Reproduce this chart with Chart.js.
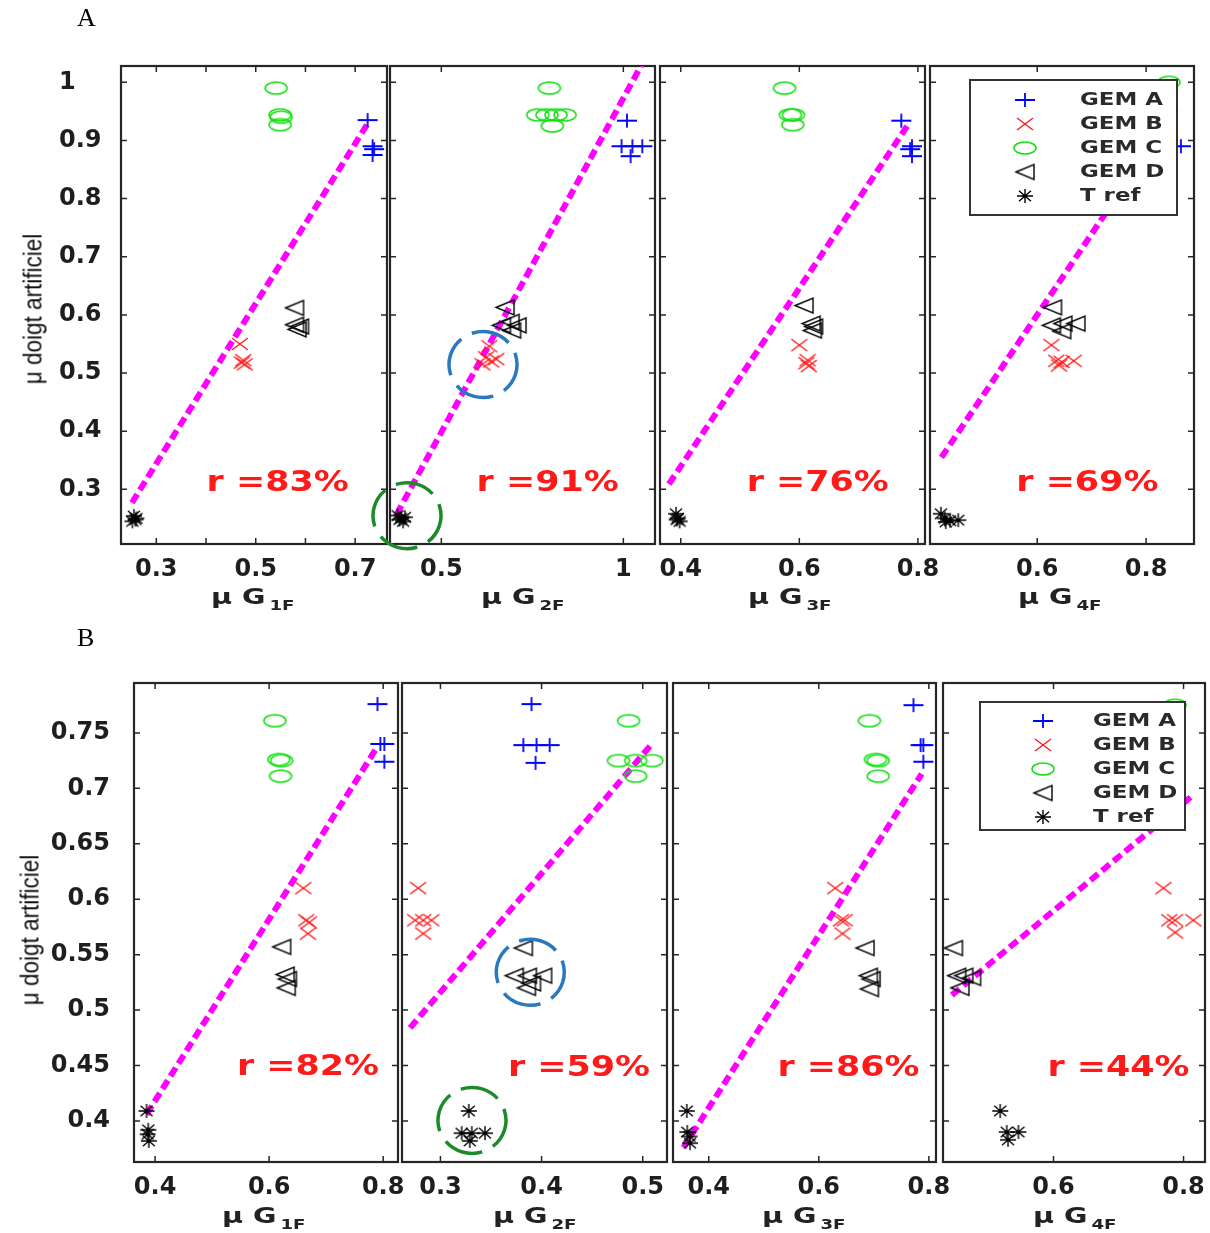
<!DOCTYPE html>
<html>
<head>
<meta charset="utf-8">
<script src="https://cdn.jsdelivr.net/npm/chart.js@4.4.0/dist/chart.umd.min.js"></script>
<style>
  body { margin: 0; background: #fff; }
  #fig { position: relative; width: 1210px; height: 1233px; overflow: hidden; }
  #fig canvas { position: absolute; left: 0; top: 0; }
  .lbl { position: absolute; font-family: "Liberation Serif", serif; font-size: 26px; line-height: 26px; color: #000; }
  .xt { position: absolute; white-space: nowrap; font: bold 22px "DejaVu Sans"; line-height: 22px; color: #222;
        transform: scaleX(1.3); transform-origin: 0 0; }
  .xt span { font-size: 14px; position: relative; top: 6px; margin-left: 3px; }
  .yt { position: absolute; white-space: nowrap; font-family: "Liberation Sans", sans-serif;
        font-size: 25px; line-height: 25px; color: #111; transform: translate(-50%, -50%) rotate(-90deg) scaleX(0.9); }
</style>
</head>
<body>
<div id="fig">
  <canvas id="A1" width="1210" height="1233"></canvas>
  <canvas id="A2" width="1210" height="1233"></canvas>
  <canvas id="A3" width="1210" height="1233"></canvas>
  <canvas id="A4" width="1210" height="1233"></canvas>
  <canvas id="B1" width="1210" height="1233"></canvas>
  <canvas id="B2" width="1210" height="1233"></canvas>
  <canvas id="B3" width="1210" height="1233"></canvas>
  <canvas id="B4" width="1210" height="1233"></canvas>

  <div class="lbl" style="left:77px;top:5px">A</div>
  <div class="lbl" style="left:77px;top:625px">B</div>

  <div class="yt" style="left:33px;top:309px">μ doigt artificiel</div>
  <div class="yt" style="left:30px;top:930px">μ doigt artificiel</div>

  <div class="xt" style="left:211px;top:586px">μ G<span>1F</span></div>
  <div class="xt" style="left:481px;top:586px">μ G<span>2F</span></div>
  <div class="xt" style="left:748px;top:586px">μ G<span>3F</span></div>
  <div class="xt" style="left:1018px;top:586px">μ G<span>4F</span></div>
  <div class="xt" style="left:222px;top:1205px">μ G<span>1F</span></div>
  <div class="xt" style="left:493px;top:1205px">μ G<span>2F</span></div>
  <div class="xt" style="left:762px;top:1205px">μ G<span>3F</span></div>
  <div class="xt" style="left:1033px;top:1205px">μ G<span>4F</span></div>
</div>

<script>
// ---- data ----
const GROUPS = ['GEM A', 'GEM B', 'GEM C', 'GEM D', 'T ref'];

const A_Y_RANGE = [0.206, 1.028];
const A_Y_TICKS = [0.3, 0.4, 0.5, 0.6, 0.7, 0.8, 0.9, 1.0];
const A_Y_LABELS = ['0.3', '0.4', '0.5', '0.6', '0.7', '0.8', '0.9', '1'];
const B_Y_RANGE = [0.363, 0.795];
const B_Y_TICKS = [0.4, 0.45, 0.5, 0.55, 0.6, 0.65, 0.7, 0.75];
const B_Y_LABELS = ['0.4', '0.45', '0.5', '0.55', '0.6', '0.65', '0.7', '0.75'];

// panel A1 (mu G1F)
const A1_X_RANGE = [0.229, 0.764];
const A1_X_TICKS = [0.3, 0.4, 0.5, 0.6, 0.7];
const A1_X_LABELS = ['0.3', '', '0.5', '', '0.7'];
const A1_GEM_A = [[0.725, 0.935], [0.735, 0.89], [0.738, 0.885], [0.735, 0.875]];
const A1_GEM_B = [[0.468, 0.55], [0.475, 0.522], [0.478, 0.515], [0.472, 0.518]];
const A1_GEM_C = [[0.541, 0.99], [0.549, 0.944], [0.551, 0.94], [0.549, 0.927]];
const A1_GEM_D = [[0.578, 0.612], [0.578, 0.583], [0.583, 0.575], [0.588, 0.58]];
const A1_TREF = [[0.255, 0.254], [0.258, 0.248], [0.252, 0.245], [0.26, 0.25]];
const A1_FIT = [[0.251, 0.277], [0.728, 0.933]];
const A1_R = ['r =83%', 0.544, 0.309];

// panel A2 (mu G2F)
const A2_X_RANGE = [0.359, 1.087];
const A2_X_TICKS = [0.5, 1.0];
const A2_X_LABELS = ['0.5', '1'];
const A2_GEM_A = [[1.01, 0.934], [0.995, 0.89], [1.025, 0.89], [1.052, 0.89], [1.02, 0.873]];
const A2_GEM_B = [[0.632, 0.546], [0.623, 0.527], [0.637, 0.52], [0.651, 0.524], [0.613, 0.515]];
const A2_GEM_C = [[0.797, 0.99], [0.765, 0.944], [0.79, 0.944], [0.815, 0.944], [0.84, 0.944], [0.805, 0.925]];
const A2_GEM_D = [[0.675, 0.613], [0.665, 0.582], [0.689, 0.588], [0.708, 0.582], [0.693, 0.573]];
const A2_TREF = [[0.38, 0.255], [0.39, 0.25], [0.395, 0.245], [0.385, 0.248], [0.4, 0.252]];
const A2_FIT = [[0.377, 0.257], [1.05, 1.03]];
const A2_R = ['r =91%', 0.792, 0.309];
const A2_RINGS = [[0.6145, 0.5146, '#2a78c0'], [0.4057, 0.2547, '#1c8a2a']];

// panel A3 (mu G3F)
const A3_X_RANGE = [0.365, 0.812];
const A3_X_TICKS = [0.4, 0.6, 0.8];
const A3_X_LABELS = ['0.4', '0.6', '0.8'];
const A3_GEM_A = [[0.772, 0.934], [0.79, 0.89], [0.787, 0.885], [0.79, 0.873]];
const A3_GEM_B = [[0.6, 0.548], [0.614, 0.522], [0.616, 0.512], [0.612, 0.517]];
const A3_GEM_C = [[0.575, 0.99], [0.585, 0.944], [0.59, 0.944], [0.589, 0.927]];
const A3_GEM_D = [[0.608, 0.616], [0.62, 0.585], [0.624, 0.58], [0.622, 0.573]];
const A3_TREF = [[0.392, 0.258], [0.395, 0.25], [0.398, 0.245], [0.393, 0.248]];
const A3_FIT = [[0.38, 0.309], [0.786, 0.931]];
const A3_R = ['r =76%', 0.631, 0.309];

// panel A4 (mu G4F) - GEM A / GEM C mostly sit under the legend
const A4_X_RANGE = [0.403, 0.888];
const A4_X_TICKS = [0.6, 0.8];
const A4_X_LABELS = ['0.6', '0.8'];
const A4_GEM_A = [[0.84, 0.934], [0.864, 0.89], [0.836, 0.886], [0.84, 0.873]];
const A4_GEM_B = [[0.626, 0.548], [0.635, 0.521], [0.645, 0.519], [0.667, 0.521], [0.64, 0.513]];
const A4_GEM_C = [[0.842, 1.0], [0.815, 0.944], [0.82, 0.94], [0.818, 0.927]];
const A4_GEM_D = [[0.628, 0.613], [0.626, 0.582], [0.647, 0.585], [0.671, 0.585], [0.645, 0.572]];
const A4_TREF = [[0.423, 0.258], [0.43, 0.25], [0.44, 0.246], [0.455, 0.247], [0.432, 0.244]];
const A4_FIT = [[0.424, 0.355], [0.855, 0.955]];
const A4_R = ['r =69%', 0.692, 0.309];

// panel B1
const B1_X_RANGE = [0.363, 0.826];
const B1_X_TICKS = [0.4, 0.6, 0.8];
const B1_X_LABELS = ['0.4', '0.6', '0.8'];
const B1_GEM_A = [[0.79, 0.776], [0.795, 0.74], [0.802, 0.74], [0.802, 0.724]];
const B1_GEM_B = [[0.66, 0.61], [0.665, 0.581], [0.67, 0.579], [0.668, 0.569]];
const B1_GEM_C = [[0.61, 0.761], [0.617, 0.726], [0.622, 0.725], [0.62, 0.711]];
const B1_GEM_D = [[0.622, 0.557], [0.628, 0.532], [0.632, 0.528], [0.63, 0.52]];
const B1_TREF = [[0.385, 0.409], [0.388, 0.392], [0.387, 0.388], [0.389, 0.382]];
const B1_FIT = [[0.385, 0.406], [0.788, 0.736]];
const B1_R = ['r =82%', 0.668, 0.448];

// panel B2
const B2_X_RANGE = [0.262, 0.524];
const B2_X_TICKS = [0.3, 0.4, 0.5];
const B2_X_LABELS = ['0.3', '0.4', '0.5'];
const B2_GEM_A = [[0.39, 0.776], [0.382, 0.739], [0.395, 0.739], [0.408, 0.739], [0.394, 0.723]];
const B2_GEM_B = [[0.278, 0.61], [0.275, 0.581], [0.283, 0.581], [0.291, 0.581], [0.283, 0.569]];
const B2_GEM_C = [[0.486, 0.761], [0.476, 0.725], [0.493, 0.725], [0.509, 0.725], [0.493, 0.711]];
const B2_GEM_D = [[0.382, 0.556], [0.373, 0.531], [0.386, 0.531], [0.401, 0.531], [0.39, 0.524], [0.385, 0.52]];
const B2_TREF = [[0.328, 0.409], [0.321, 0.389], [0.331, 0.389], [0.344, 0.389], [0.329, 0.382]];
const B2_FIT = [[0.27, 0.484], [0.509, 0.74]];
const B2_R = ['r =59%', 0.437, 0.447];
const B2_RINGS = [[0.3888, 0.5341, '#2a78c0'], [0.3312, 0.4005, '#1c8a2a']];

// panel B3
const B3_X_RANGE = [0.335, 0.813];
const B3_X_TICKS = [0.4, 0.6, 0.8];
const B3_X_LABELS = ['0.4', '0.6', '0.8'];
const B3_GEM_A = [[0.772, 0.775], [0.785, 0.739], [0.79, 0.739], [0.79, 0.724]];
const B3_GEM_B = [[0.63, 0.61], [0.64, 0.581], [0.647, 0.581], [0.643, 0.569]];
const B3_GEM_C = [[0.692, 0.761], [0.703, 0.726], [0.708, 0.725], [0.708, 0.711]];
const B3_GEM_D = [[0.684, 0.556], [0.69, 0.531], [0.695, 0.528], [0.692, 0.519]];
const B3_TREF = [[0.36, 0.409], [0.361, 0.39], [0.365, 0.386], [0.366, 0.38]];
const B3_FIT = [[0.354, 0.376], [0.787, 0.713]];
const B3_R = ['r =86%', 0.654, 0.447];

// panel B4 - GEM A / GEM C sit under the legend
const B4_X_RANGE = [0.43, 0.833];
const B4_X_TICKS = [0.6, 0.8];
const B4_X_LABELS = ['0.6', '0.8'];
const B4_GEM_A = [[0.74, 0.77], [0.75, 0.74], [0.757, 0.74], [0.757, 0.724]];
const B4_GEM_B = [[0.769, 0.61], [0.778, 0.581], [0.787, 0.581], [0.815, 0.581], [0.787, 0.57]];
const B4_GEM_C = [[0.787, 0.775], [0.755, 0.726], [0.765, 0.725], [0.762, 0.711]];
const B4_GEM_D = [[0.446, 0.556], [0.451, 0.531], [0.462, 0.531], [0.474, 0.529], [0.456, 0.52]];
const B4_TREF = [[0.518, 0.409], [0.528, 0.39], [0.546, 0.39], [0.53, 0.383]];
const B4_FIT = [[0.4436, 0.5135], [0.815, 0.694]];
const B4_R = ['r =44%', 0.70, 0.447];

// ---- markers (drawn once, used as point styles) ----
function marker(kind, color, w, h, lw) {
  const c = document.createElement('canvas');
  c.width = w + 4; c.height = h + 4;
  const g = c.getContext('2d');
  const cx = c.width / 2, cy = c.height / 2, rx = w / 2, ry = h / 2;
  g.strokeStyle = color; g.lineWidth = lw;
  g.beginPath();
  if (kind === 'plus') {
    g.moveTo(cx - rx, cy); g.lineTo(cx + rx, cy);
    g.moveTo(cx, cy - ry); g.lineTo(cx, cy + ry);
  } else if (kind === 'x') {
    g.moveTo(cx - rx, cy - ry); g.lineTo(cx + rx, cy + ry);
    g.moveTo(cx + rx, cy - ry); g.lineTo(cx - rx, cy + ry);
  } else if (kind === 'o') {
    g.ellipse(cx, cy, rx, ry, 0, 0, Math.PI * 2);
  } else if (kind === 'tri') {
    g.moveTo(cx - rx, cy); g.lineTo(cx + rx, cy - ry); g.lineTo(cx + rx, cy + ry); g.closePath();
  } else {
    g.moveTo(cx - rx, cy); g.lineTo(cx + rx, cy);
    g.moveTo(cx, cy - ry); g.lineTo(cx, cy + ry);
    g.moveTo(cx - rx * 0.75, cy - ry * 0.75); g.lineTo(cx + rx * 0.75, cy + ry * 0.75);
    g.moveTo(cx + rx * 0.75, cy - ry * 0.75); g.lineTo(cx - rx * 0.75, cy + ry * 0.75);
  }
  g.stroke();
  return c;
}
const MARKERS = [
  marker('plus', '#0000ff', 20, 14, 1.8),
  marker('x', '#ff1a1a', 16, 12, 1.4),
  marker('o', '#14e014', 22, 12, 1.5),
  marker('tri', '#000000', 18, 15, 1.4),
  marker('star', '#000000', 16, 14, 1.4)
];

// ---- panels ----
const panels = [
  { id: 'A1', box: [121, 66, 387, 544], yR: A_Y_RANGE, yT: A_Y_TICKS, yL: A_Y_LABELS, yLabels: 'left',
    xR: A1_X_RANGE, xT: A1_X_TICKS, xL: A1_X_LABELS,
    groups: [A1_GEM_A, A1_GEM_B, A1_GEM_C, A1_GEM_D, A1_TREF], fit: A1_FIT, r: A1_R },
  { id: 'A2', box: [390, 66, 655, 544], yR: A_Y_RANGE, yT: A_Y_TICKS, yL: A_Y_LABELS,
    xR: A2_X_RANGE, xT: A2_X_TICKS, xL: A2_X_LABELS,
    groups: [A2_GEM_A, A2_GEM_B, A2_GEM_C, A2_GEM_D, A2_TREF], fit: A2_FIT, r: A2_R, rings: A2_RINGS },
  { id: 'A3', box: [660, 66, 925, 544], yR: A_Y_RANGE, yT: A_Y_TICKS, yL: A_Y_LABELS,
    xR: A3_X_RANGE, xT: A3_X_TICKS, xL: A3_X_LABELS,
    groups: [A3_GEM_A, A3_GEM_B, A3_GEM_C, A3_GEM_D, A3_TREF], fit: A3_FIT, r: A3_R },
  { id: 'A4', box: [930, 66, 1194, 544], yR: A_Y_RANGE, yT: A_Y_TICKS, yL: A_Y_LABELS,
    xR: A4_X_RANGE, xT: A4_X_TICKS, xL: A4_X_LABELS,
    groups: [A4_GEM_A, A4_GEM_B, A4_GEM_C, A4_GEM_D, A4_TREF], fit: A4_FIT, r: A4_R,
    legend: { dx: 40, dy: 14, w: 207, h: 135, row0: 20, mx: 55, tx: 110 } },
  { id: 'B1', box: [134, 683, 398, 1162], yR: B_Y_RANGE, yT: B_Y_TICKS, yL: B_Y_LABELS, yLabels: 'right',
    xR: B1_X_RANGE, xT: B1_X_TICKS, xL: B1_X_LABELS,
    groups: [B1_GEM_A, B1_GEM_B, B1_GEM_C, B1_GEM_D, B1_TREF], fit: B1_FIT, r: B1_R },
  { id: 'B2', box: [402, 683, 667, 1162], yR: B_Y_RANGE, yT: B_Y_TICKS, yL: B_Y_LABELS,
    xR: B2_X_RANGE, xT: B2_X_TICKS, xL: B2_X_LABELS,
    groups: [B2_GEM_A, B2_GEM_B, B2_GEM_C, B2_GEM_D, B2_TREF], fit: B2_FIT, r: B2_R, rings: B2_RINGS },
  { id: 'B3', box: [673, 683, 936, 1162], yR: B_Y_RANGE, yT: B_Y_TICKS, yL: B_Y_LABELS,
    xR: B3_X_RANGE, xT: B3_X_TICKS, xL: B3_X_LABELS,
    groups: [B3_GEM_A, B3_GEM_B, B3_GEM_C, B3_GEM_D, B3_TREF], fit: B3_FIT, r: B3_R },
  { id: 'B4', box: [943, 683, 1205, 1162], yR: B_Y_RANGE, yT: B_Y_TICKS, yL: B_Y_LABELS,
    xR: B4_X_RANGE, xT: B4_X_TICKS, xL: B4_X_LABELS,
    groups: [B4_GEM_A, B4_GEM_B, B4_GEM_C, B4_GEM_D, B4_TREF], fit: B4_FIT, r: B4_R,
    legend: { dx: 37, dy: 19, w: 205, h: 128, row0: 19, mx: 63, tx: 113 } }
];

const TICK_FONT = { family: 'DejaVu Sans', weight: 'bold', size: 24 };
const TICK_LEN = 6;

function panelPlugin(p) {
  return {
    id: 'panel',
    beforeDatasetsDraw(chart) {
      const { ctx, chartArea: a, scales } = chart;
      ctx.save();
      ctx.strokeStyle = '#262626';
      ctx.lineWidth = 1.5;
      ctx.beginPath();
      scales.x.ticks.forEach(t => {
        const px = scales.x.getPixelForValue(t.value);
        ctx.moveTo(px, a.bottom); ctx.lineTo(px, a.bottom - TICK_LEN);
        ctx.moveTo(px, a.top); ctx.lineTo(px, a.top + TICK_LEN);
      });
      scales.y.ticks.forEach(t => {
        const py = scales.y.getPixelForValue(t.value);
        ctx.moveTo(a.left, py); ctx.lineTo(a.left + TICK_LEN, py);
        ctx.moveTo(a.right, py); ctx.lineTo(a.right - TICK_LEN, py);
      });
      ctx.stroke();
      ctx.lineWidth = 2.2;
      ctx.strokeRect(a.left, a.top, a.width, a.height);
      ctx.restore();
    },
    afterDatasetsDraw(chart) {
      const { ctx, chartArea: a, scales } = chart;
      ctx.save();
      // correlation text
      ctx.font = 'bold 28px "DejaVu Sans"';
      const tw = ctx.measureText(p.r[0]).width;
      ctx.translate(scales.x.getPixelForValue(p.r[1]), scales.y.getPixelForValue(p.r[2]));
      ctx.scale(142 / tw, 1);
      ctx.fillStyle = '#ff1a1a';
      ctx.textAlign = 'center';
      ctx.textBaseline = 'middle';
      ctx.fillText(p.r[0], 0, 0);
      ctx.restore();

      // dashed rings
      (p.rings || []).forEach(rg => {
        ctx.save();
        ctx.strokeStyle = rg[2];
        ctx.lineWidth = 3.5;
        ctx.setLineDash([40, 12]);
        ctx.beginPath();
        ctx.ellipse(scales.x.getPixelForValue(rg[0]), scales.y.getPixelForValue(rg[1]), 34, 33, 0, -0.3, Math.PI * 2 - 0.3);
        ctx.stroke();
        ctx.restore();
      });

      // legend box
      if (p.legend) {
        const L = p.legend;
        const x0 = a.left + L.dx, y0 = a.top + L.dy;
        ctx.save();
        ctx.fillStyle = '#fff';
        ctx.fillRect(x0, y0, L.w, L.h);
        ctx.strokeStyle = '#333';
        ctx.lineWidth = 2;
        ctx.strokeRect(x0, y0, L.w, L.h);
        ctx.font = 'bold 17px "DejaVu Sans"';
        const sx = 83 / ctx.measureText('GEM A').width;
        GROUPS.forEach((name, i) => {
          const cy = y0 + L.row0 + i * 24;
          const m = MARKERS[i];
          ctx.drawImage(m, x0 + L.mx - m.width / 2, cy - m.height / 2);
          ctx.save();
          ctx.translate(x0 + L.tx, cy);
          ctx.scale(sx, 1);
          ctx.fillStyle = '#2a2a2a';
          ctx.textBaseline = 'middle';
          ctx.fillText(name, 0, 1);
          ctx.restore();
        });
        ctx.restore();
      }
    }
  };
}

panels.forEach(p => {
  const [L, T, R, B] = p.box;
  const yW = p.yLabels === 'left' ? 62 : (p.yLabels === 'right' ? 100 : 10);
  const xH = 60;

  const datasets = p.groups.map((pts, i) => ({
    label: GROUPS[i],
    data: pts.map(q => ({ x: q[0], y: q[1] })),
    pointStyle: MARKERS[i],
    pointRadius: 4,
    showLine: false,
    clip: false
  }));
  datasets.push({
    label: 'fit',
    data: p.fit.map(q => ({ x: q[0], y: q[1] })),
    showLine: true,
    pointRadius: 0,
    borderColor: '#ff00ff',
    borderWidth: 6,
    borderDash: [10, 5],
    fill: false
  });

  new Chart(document.getElementById(p.id), {
    type: 'scatter',
    data: { datasets },
    plugins: [panelPlugin(p)],
    options: {
      responsive: false,
      animation: false,
      events: [],
      layout: { padding: { left: L - yW, top: T, right: 1210 - R, bottom: 1233 - B - xH } },
      plugins: { legend: { display: false }, title: { display: false }, tooltip: { enabled: false } },
      scales: {
        x: {
          type: 'linear', min: p.xR[0], max: p.xR[1],
          afterBuildTicks: s => { s.ticks = p.xT.map(v => ({ value: v })); },
          afterFit: s => { s.height = xH; s.paddingLeft = 0; s.paddingRight = 0; s.paddingTop = 0; s.paddingBottom = 0; },
          ticks: { autoSkip: false, maxRotation: 0, padding: 3, font: TICK_FONT, color: '#1e1e1e',
                   callback: (v, i) => p.xL[i] },
          grid: { display: false },
          border: { display: false }
        },
        y: {
          type: 'linear', min: p.yR[0], max: p.yR[1],
          afterBuildTicks: s => { s.ticks = p.yT.map(v => ({ value: v })); },
          afterFit: s => { s.width = yW; s.paddingLeft = 0; s.paddingRight = 0; s.paddingTop = 0; s.paddingBottom = 0; },
          ticks: { display: !!p.yLabels, autoSkip: false, padding: 16, font: TICK_FONT, color: '#1e1e1e',
                   crossAlign: p.yLabels === 'left' ? 'far' : 'near',
                   callback: (v, i) => p.yL[i] },
          grid: { display: false },
          border: { display: false }
        }
      }
    }
  });
});
</script>
</body>
</html>
